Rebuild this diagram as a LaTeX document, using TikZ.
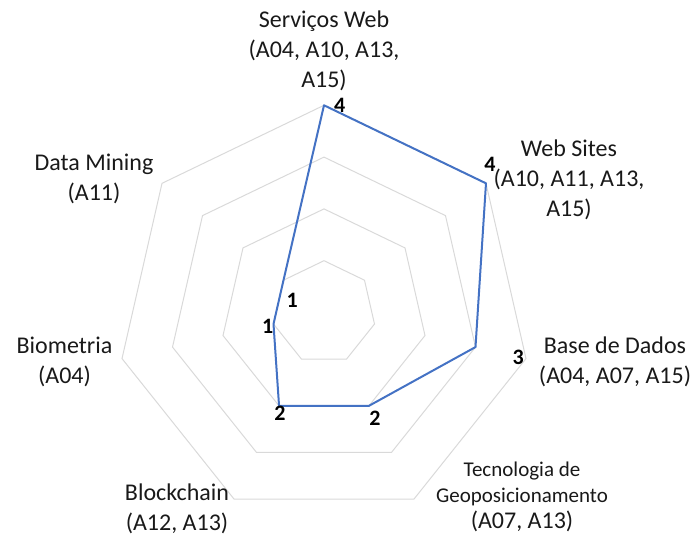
\documentclass[tikz,border=0pt]{standalone}
\usepackage{fontspec}
\setmainfont{Carlito}
\usetikzlibrary{positioning}

\definecolor{seriesblue}{HTML}{4472C4}
\definecolor{ringgray}{HTML}{D9D9D9}
\def\rstep{51.8}% one unit on the radial scale

\begin{document}
\begin{tikzpicture}[x=1pt,y=1pt,
    gridline/.style={draw=ringgray,line width=1pt},
    series/.style={draw=seriesblue,line width=2pt,line join=round},
    cat/.style={align=center,text=black!90,font=\fontsize{24}{30}\selectfont},
    val/.style={inner sep=1pt,text=black,font=\bfseries\fontsize{22}{24}\selectfont}]
    \useasboundingbox (-324,-224.5) rectangle (370,312.5);
    % rings 1..4
    \foreach \k in {1,...,4}
        \draw [gridline] (90:{\k*\rstep}) \foreach \a in {1,...,6} { -- ({90-\a*360/7}:{\k*\rstep}) } -- cycle;
    % data points
    \coordinate (SW) at (90:{4*\rstep});
    \coordinate (WS) at ({90-360/7}:{4*\rstep});
    \coordinate (BD) at ({90-2*360/7}:{3*\rstep});
    \coordinate (TG) at ({90-3*360/7}:{2*\rstep});
    \coordinate (BC) at ({90-4*360/7}:{2*\rstep});
    \coordinate (BM) at ({90-5*360/7}:{1*\rstep});
    \coordinate (DM) at ({90-6*360/7}:{1*\rstep});
    \draw [series] (SW) -- (WS) -- (BD) -- (TG) -- (BC) -- (BM) -- (DM) -- cycle;
    % values
    \node (vSW) [val,right=9pt of SW] {4};
    \node (vWS) [val,above=11pt of WS,xshift=4pt] {4};
    \node (vBD) [val,right=36pt of BD,yshift=-10pt] {3};
    \node (vTG) [val,below=4pt of TG,xshift=6pt] {2};
    \node (vBC) [val,below=-1pt of BC,xshift=1pt] {2};
    \node (vBM) [val,left=-1pt of BM,yshift=-2pt] {1};
    \node (vDM) [val,below right=12pt and 2pt of DM] {1};
    % categories
    \node (lSW) [cat] at (0,261.5) {Serviços Web\\(A04, A10, A13,\\A15)};
    \node (lWS) [cat] at (245,132.5) {Web Sites\\(A10, A11, A13,\\A15)};
    \node (lBD) [cat] at (291,-49.5) {Base de Dados\\(A04, A07, A15)};
    \node (lTG) [cat,font=\fontsize{21}{26}\selectfont] at (198,-184.5)
        {Tecnologia de\\Geoposicionamento\\{\fontsize{24}{26}\selectfont(A07, A13)}};
    \node (lBC) [cat] at (-147,-196) {Blockchain\\(A12, A13)};
    \node (lBM) [cat] at (-259.5,-49.5) {Biometria\\(A04)};
    \node (lDM) [cat] at (-230,134) {Data Mining\\(A11)};
\end{tikzpicture}
\end{document}
